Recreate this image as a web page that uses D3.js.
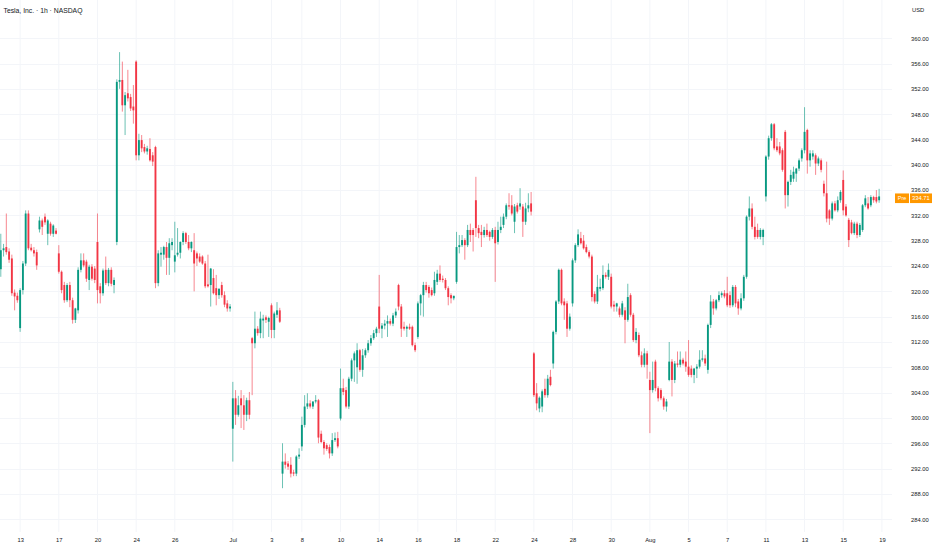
<!DOCTYPE html>
<html>
<head>
<meta charset="utf-8">
<script src="https://cdn.jsdelivr.net/npm/d3@7"></script>
<style>
  body { margin: 0; background: #ffffff; }
  text { font-family: 'Liberation Sans', Arial, sans-serif; }
</style>
</head>
<body>
<div id="chart"></div>
<script>
// trading sessions (1h bars, regular hours)
const sessions = [
  'Jun 12', 'Jun 13', 'Jun 16', 'Jun 17', 'Jun 18', 'Jun 20', 'Jun 23', 'Jun 24', 'Jun 25', 'Jun 26', 'Jun 27', 'Jun 30',
  'Jul 1', 'Jul 2', 'Jul 3', 'Jul 7', 'Jul 8', 'Jul 9', 'Jul 10', 'Jul 11', 'Jul 14', 'Jul 15', 'Jul 16', 'Jul 17',
  'Jul 18', 'Jul 21', 'Jul 22', 'Jul 23', 'Jul 24', 'Jul 25', 'Jul 28', 'Jul 29', 'Jul 30', 'Jul 31',
  'Aug 1', 'Aug 4', 'Aug 5', 'Aug 6', 'Aug 7', 'Aug 8', 'Aug 11', 'Aug 12', 'Aug 13', 'Aug 14', 'Aug 15', 'Aug 18', 'Aug 19'
];

// [open, high, low, close] per hour, one row per session
const candles = [
  [[323.5,329.1,322.3,326.5],[326.5,327.5,325.5,326.8],[327,332.3,325.8,326.2],[326.3,326.8,324.5,325],[325.2,325.8,319.3,319.7],[319.8,320.3,317,319.2],[319.3,319.8,318.2,318.6]],
  [[314.2,320.5,313.6,320.2],[320.2,324.8,319.5,324.4],[324.4,332.8,324,332.3],[332.3,332.8,326.5,326.8],[326.9,327.5,326.3,326.5],[326.5,327,325.5,326],[326.2,326.6,323.4,324.1]],
  [[329.8,331.8,329.3,331.2],[331.2,331.5,328.9,330.2],[331.8,332.3,330.5,330.9],[329.1,331.4,327.3,331.2],[330.7,331,328.8,329.1],[329.1,330.6,328.6,330.4],[329.6,330,329,329.1]],
  [[326,327.3,322.8,323.1],[323.1,323.3,319.7,320.2],[321,321.5,318.2,318.6],[318.6,321.3,318.3,321],[321,321.5,317.5,318.6],[318.6,319,314.9,315.5],[315.5,317.4,315,317.3]],
  [[317,323.8,316.5,323.4],[323.4,326,323,324.9],[324.9,326,323.8,324.1],[324.7,325,321.5,322],[321.8,324.2,320.2,323.9],[323.9,324.3,321.7,322],[323.6,324,321.3,321.8]],
  [[327.8,332.3,318.1,320.2],[320.8,321.3,318.1,319.7],[319.7,323.6,319.3,323.3],[323.4,325.5,321,321.3],[321.3,323.7,320.8,323.4],[323.4,323.8,320.8,321.2],[321,322.2,319.7,321.8]],
  [[327.8,353.5,327.3,353.1],[353.1,357.8,352,353.4],[353.4,356.3,348.4,349.4],[349.4,351.5,344.7,351],[351.3,355,350,350.5],[350.7,351.2,348.5,348.9],[349.2,352.6,346.5,348.6]],
  [[356.3,356.5,340.7,341.5],[341.5,344.9,340.7,343.9],[343.9,344.7,342,342.6],[342.8,343.3,341.8,342.1],[342.1,343,341.6,342.6],[342.5,344.2,340.5,340.7],[341.5,342,339.8,340.5]],
  [[342.8,343,320.5,321.3],[321.3,326.5,320.8,326],[325.8,327,323.9,326.1],[325.8,327.2,325,327],[327,327.8,322.6,325.3],[325.3,328.4,322.6,327.6],[327.3,328.4,326.5,327.8]],
  [[324.7,331,323,325.7],[325.8,330,325.5,326.1],[326.1,327.9,325.2,327.8],[327.8,329.5,327.3,329.2],[329.2,329.4,327.5,327.8],[327.8,328.9,326.5,326.8],[326.8,327.9,326.2,327.8]],
  [[326.5,329.2,320,324.4],[326,326.3,324,325.2],[325.5,326,324.5,324.7],[325.5,325.7,324.2,324.4],[324.4,324.8,320.5,320.8],[321.1,325.8,320.6,320.8],[321,323.7,317.6,323.6]],
  [[322.1,323.5,319.5,319.7],[320.5,322.6,317.8,319.4],[319.4,320.5,318.8,320.4],[321,321.5,319,319.4],[319.4,320,317.5,317.9],[318.1,318.6,316.8,317.3],[317.3,318,316.8,317.6]],
  [[298.3,305.7,293.1,303.1],[303.1,304.4,298.9,300.5],[300.5,303.5,300.2,302],[303.1,304.4,298.4,302],[302,303.6,298.1,300.5],[300.5,303.2,299.5,302.8],[302.8,304.1,299.8,300.5]],
  [[312.6,312.8,303.6,311.8],[311.8,316.8,311,314.1],[314.1,314.5,313,313.4],[313.4,316.8,312.6,315.7],[315.4,316.3,312.6,315.7],[315.9,316.2,315,315.5],[315.2,316,312.8,315.8]],
  [[317.8,318.1,312.6,313.9],[313.9,316.8,312.6,316.5],[316.3,318.3,315.8,317],[317,317.4,315,315.2]],
  [[291.2,296,288.9,293.1],[293.1,294.4,292,292.6],[292.8,293.2,291.8,292.3],[292.6,293.8,290.6,291.2],[291.4,291.8,290.8,291.2],[291.2,294.1,290.8,293.9],[293.9,295.2,293.5,294.2]],
  [[295.5,300.2,294.8,298.9],[298.9,303.6,298.5,301.8],[301.8,303.9,301.4,302.3],[302.3,302.8,301.5,301.8],[301.8,302.6,301.4,302.6],[302.6,303.6,302.3,302.8],[302.8,303,296,296.9]],
  [[297.5,298,296,296.2],[296.2,296.5,294.2,295.2],[295.7,296,294.8,295.1],[295.4,295.8,293.6,294.4],[294.4,297.6,294,296.5],[296.5,297.7,296.2,296.8],[296.8,297.8,295.2,295.5]],
  [[299.9,307.8,299.6,304.7],[304.7,306.2,303.6,304.1],[304.4,304.9,301.5,301.8],[301.8,306.5,301.4,306.2],[306.2,309.4,305.8,309.1],[309.1,310.5,305.7,310.2],[308,311.8,305.4,310.7]],
  [[310.7,310.9,307.3,307.6],[307.6,310.9,306.5,309.9],[309.9,311,309.5,310.7],[310.7,312.3,310.3,311.8],[311.8,313.1,311.4,312.6],[312.6,313.9,312.3,313.4],[313.4,314.4,312.8,314.1]],
  [[317.6,322.6,313.4,314.1],[314.1,315,312.6,314.6],[314.6,315.5,314,314.9],[314.9,316.2,312.8,315.3],[315.3,315.7,314.6,314.9],[314.9,316.6,314.5,316.2],[316.2,317.3,315.8,316.8]],
  [[321,321.2,317,317.6],[317.6,318,312.8,314.1],[314.4,315.2,313.8,314.1],[314.1,314.6,312.8,314.4],[314.4,314.9,313.9,314.1],[314.4,314.6,311.3,311.5],[311.5,311.9,310.4,310.7]],
  [[312.8,318.4,312.5,318.1],[318.1,319.6,316.2,319.4],[319.4,321.5,316,321],[321,321.5,319.8,320.2],[320.7,321,319,319.7],[320.2,320.6,319.2,319.4],[319.7,323.1,319.3,321.8]],
  [[321.5,323.4,321,322.8],[322.8,324.1,321.5,321.8],[322,322.5,321.4,321.8],[321.8,322.1,320.2,320.5],[320.5,320.8,317.8,319.1],[319.4,319.7,318.1,318.9],[318.9,319.3,318.6,319.3]],
  [[321.5,329.4,321.2,327],[327,328.9,326,327.3],[327.3,328.9,327,328.1],[328.1,328.4,325,327.3],[327.3,330.5,327,329.7],[329.7,330.7,327.8,328.9],[329.7,330,326.3,328.9]],
  [[334.4,338.1,328.6,330],[330,330.5,328.4,329.2],[329.4,330.5,327,328.9],[328.9,330.2,328.5,329.7],[329.7,330.7,328.6,328.9],[329.4,329.6,328,328.6],[328.6,330,328.3,329.7]],
  [[329.7,330.2,321.5,327.6],[327.8,331,327.4,329.7],[329.7,331.8,329.2,330.2],[330.5,332.3,330,331.8],[331.8,333.9,331.4,333.6],[333.6,335.5,332.9,333.4],[333.6,335.2,332,332.3]],
  [[331,333.8,329.2,333.4],[333.6,334,332.3,332.6],[333.4,336.3,332.9,333.9],[333.4,333.8,328.6,331],[331,334,330.5,333.1],[333.1,335.5,332.5,333.6],[333.9,335.7,332,332.6]],
  [[310.2,310.4,303.3,303.6],[303.9,305.5,301.2,302.3],[301.5,303.4,300.9,303.2],[301.8,304.5,300.9,304.2],[304.6,306.2,303.2,303.6],[303.6,306.8,303.2,306.2],[306.5,307.6,305,305.2]],
  [[308.6,313.8,307.8,313.6],[313.6,318.6,313.2,318.4],[318.4,323.6,318,323.4],[323.4,323.6,317.8,318.1],[318.4,318.9,315.5,317.8],[318.1,318.5,312.8,314.1],[314.1,316.5,313.8,316]],
  [[318.1,325.2,317.6,324.9],[324.9,327.6,324.5,327.3],[327.3,329.8,327,329],[328.4,329.4,327.4,327.6],[328,328.9,326.6,326.8],[327,327.4,326,326.2],[326.2,326.5,325.2,325.5]],
  [[325.5,325.8,318.4,319.1],[319.6,320,318.1,318.4],[318.4,322.6,318,320.7],[320.4,322,320,320.7],[320.5,324.1,320.2,322.6],[322.6,323,322,322.3],[322.3,324.4,321.8,323.4]],
  [[322.3,322.8,317.3,317.6],[317.9,318.5,316.8,317.6],[317.6,318.2,316.8,318.1],[317.3,317.6,315.9,316.3],[316.3,318.5,316,318.1],[317,317.5,311.8,315.5],[315.5,321.2,315.2,319.1]],
  [[319.4,319.7,316,316.3],[316.3,316.6,312,312.3],[312.3,314.2,311.8,313.6],[313.1,313.5,309.6,309.9],[309.9,310.5,308,308.4],[308.4,311,308,310.2],[310.2,310.6,306.2,308.4]],
  [[306,307.3,297.6,304.4],[304.4,308.9,304,306],[308.9,309.2,304.2,304.7],[304.7,305,302.6,303.1],[304.4,304.7,302.8,303.1],[303.1,303.4,301.3,301.8],[301.8,303,301,302.6]],
  [[306,312,305.8,308.9],[308.9,309.3,303.4,306],[306,309,305.5,308.6],[308.6,310.5,308,308.4],[308.4,310.5,308,309.2],[309.2,309.5,308.3,308.6],[308.9,310.5,307.3,308.1]],
  [[308.1,312.3,306.5,306.8],[307.8,308.3,306.4,306.8],[306.8,307.9,305.5,307.8],[307.8,308.5,306.3,308.1],[308.1,310.7,307.8,309.2],[309.2,310.7,308.9,309.4],[309.4,310,308.2,308.6]],
  [[307.6,314.9,307,314.7],[314.7,319.4,314.2,318.4],[318.4,318.8,316.3,317.3],[317.3,318.8,317,318.6],[318.6,320,318.3,319.4],[319.4,320,319,319.7],[319.7,320.2,318.9,319.2]],
  [[319.7,322.3,317.5,317.8],[319.4,320,317.4,317.8],[317.8,321,317.5,320.7],[320.7,321,317.5,318.1],[318.4,318.8,316.3,317.3],[317.3,319.7,317,318.9],[318.9,322.6,318.5,322.3]],
  [[322.3,332,322,331.8],[331.8,335,331.2,333.1],[333.1,333.9,329.8,330.2],[330.2,331.8,328.2,328.6],[329.7,330.7,328.3,328.6],[328.6,330,328.2,329.7],[328.6,329.9,327.3,329.7]],
  [[335,341.5,334.2,341.3],[341.3,344.6,340.8,344.2],[344.2,346.6,343.8,346.4],[346.4,346.6,342.3,342.6],[342.9,344.2,342,342.3],[342.9,343.6,341.5,341.8],[342.3,342.6,338.9,339.2]],
  [[345.2,345.5,333.1,335.2],[335.2,337.5,333.4,337.3],[337.3,339.2,336.8,338.4],[337.8,339.7,337.3,338.9],[338.6,339.5,337.3,339.4],[339.4,341,339,340.7],[341,342.6,340.5,342.3]],
  [[342.3,349.1,341.8,345.2],[345.5,345.7,338.6,340.7],[340.7,342.3,339.7,341.8],[341.3,342.3,340.8,341.8],[341.5,341.8,338.4,340.2],[340.2,341.3,339.8,341],[340.7,341,338.8,339.2]],
  [[337,337.5,335,335.5],[335.5,340.5,330.9,331.5],[332.8,333,330.5,331.5],[331.5,334.2,331.2,333.9],[333.9,334.3,332.6,332.8],[332.8,335,332.5,334.4],[334.4,336,334,335.7]],
  [[337.6,339.1,332,332.8],[333.4,333.8,331.8,332],[331.3,331.6,327,328.1],[330.9,331.3,329,329.2],[329.2,331,328.9,330.7],[330.7,331,328.4,328.9],[328.9,330.8,328.6,330.5]],
  [[329.7,333.8,329.4,333.6],[333.6,335.2,333.3,334.7],[333.9,334.9,332.9,333.1],[333.6,335.2,333.3,334.9],[334.9,335.1,334,334.4],[334.9,336,333.9,334.2],[334.4,336.2,334,335]],
  []
];

// time axis labels: session -> text
const xTickSessions = ['Jun 13', 'Jun 17', 'Jun 20', 'Jun 24', 'Jun 26', 'Jul 1', 'Jul 3', 'Jul 8', 'Jul 10', 'Jul 14', 'Jul 16', 'Jul 18',
  'Jul 22', 'Jul 24', 'Jul 28', 'Jul 30', 'Aug 1', 'Aug 5', 'Aug 7', 'Aug 11', 'Aug 13', 'Aug 15', 'Aug 19'];
const xTickLabels = ['13', '17', '20', '24', '26', 'Jul', '3', '8', '10', '14', '16', '18',
  '22', '24', '28', '30', 'Aug', '5', '7', '11', '13', '15', '19'];

const yTicks = [284, 288, 292, 296, 300, 304, 308, 312, 316, 320, 324, 328, 332, 336, 340, 344, 348, 352, 356, 360];

const preMarket = 334.71;
const title = 'Tesla, Inc. · 1h · NASDAQ';

// flatten bars, remember where each session starts
const bars = [];
const sessionStart = {};
candles.forEach((day, d) => {
  sessionStart[sessions[d]] = bars.length;
  day.forEach((b) => bars.push({ o: b[0], h: b[1], l: b[2], c: b[3], i: bars.length }));
});

const W = 932, H = 550;
const plotW = 892, plotH = 532;
const up = '#089981', down = '#F23645';

const svg = d3
  .select('#chart')
  .append('svg')
  .attr('width', W)
  .attr('height', H)
  .style('background-color', '#ffffff');

const x = d3.scaleLinear().domain([0, sessionStart['Aug 19']]).range([0.8, 881.9]);
const y = d3.scaleLinear().domain([284, 360]).range([519.2, 38.2]);

svg.append('clipPath').attr('id', 'plot-clip')
  .append('rect').attr('width', plotW).attr('height', plotH);

// grid
const grid = svg.append('g').attr('clip-path', 'url(#plot-clip)');
grid.selectAll('line.h')
  .data(yTicks)
  .join('line')
  .attr('x1', 0)
  .attr('x2', plotW)
  .attr('y1', (d) => Math.round(y(d)) + 0.5)
  .attr('y2', (d) => Math.round(y(d)) + 0.5)
  .attr('stroke', '#f3f5f9')
  .attr('stroke-width', 1);
grid.selectAll('line.v')
  .data(xTickSessions)
  .join('line')
  .attr('x1', (s) => x(sessionStart[s]))
  .attr('x2', (s) => x(sessionStart[s]))
  .attr('y1', 0)
  .attr('y2', plotH)
  .attr('stroke', '#f3f5f9')
  .attr('stroke-width', 1);

// candles
const step = x(1) - x(0);
const bodyW = step * 0.68;
const candleG = svg.append('g').attr('clip-path', 'url(#plot-clip)');
const color = (b) => (b.c >= b.o ? up : down);

candleG.selectAll('line.wick')
  .data(bars)
  .join('line')
  .attr('x1', (b) => x(b.i))
  .attr('x2', (b) => x(b.i))
  .attr('y1', (b) => y(b.h))
  .attr('y2', (b) => y(b.l))
  .attr('stroke', color)
  .attr('stroke-width', 0.6);

candleG.selectAll('rect.body')
  .data(bars)
  .join('rect')
  .attr('x', (b) => x(b.i) - bodyW / 2)
  .attr('y', (b) => y(Math.max(b.o, b.c)))
  .attr('width', bodyW)
  .attr('height', (b) => Math.max(0.8, Math.abs(y(b.o) - y(b.c))))
  .attr('fill', color);

// price axis
const yAxis = svg.append('g')
  .attr('transform', `translate(${plotW + 19},0)`)
  .call(d3.axisRight(y).tickValues(yTicks).tickSize(0).tickPadding(0).tickFormat(d3.format('.2f')));
yAxis.select('.domain').remove();
yAxis.selectAll('text')
  .attr('fill', '#131722')
  .style('font-size', '5.8px');

// time axis
const xAxis = svg.append('g')
  .attr('transform', `translate(0,${plotH + 5.5})`)
  .call(d3.axisBottom(x)
    .tickValues(xTickSessions.map((s) => sessionStart[s]))
    .tickSize(0)
    .tickPadding(0)
    .tickFormat((d, i) => xTickLabels[i]));
xAxis.select('.domain').remove();
xAxis.selectAll('text')
  .attr('fill', '#131722')
  .style('font-size', '5.8px');

// header
svg.append('text')
  .attr('x', 3.5)
  .attr('y', 12.5)
  .attr('fill', '#131722')
  .style('font-size', '6.8px')
  .text(title);
svg.append('text')
  .attr('x', 912)
  .attr('y', 12)
  .attr('fill', '#131722')
  .style('font-size', '5.8px')
  .text('USD');

// pre-market price tag
const tagY = y(preMarket);
svg.append('rect')
  .attr('x', 895).attr('y', tagY - 4.8)
  .attr('width', 14).attr('height', 9.6)
  .attr('fill', '#FF9800');
svg.append('rect')
  .attr('x', 910).attr('y', tagY - 4.8)
  .attr('width', 22).attr('height', 9.6)
  .attr('fill', '#FF9800');
svg.append('text')
  .attr('x', 902).attr('y', tagY + 2)
  .attr('text-anchor', 'middle')
  .attr('fill', '#ffffff')
  .style('font-size', '5.4px')
  .text('Pre');
svg.append('text')
  .attr('x', 912).attr('y', tagY + 2)
  .attr('fill', '#ffffff')
  .style('font-size', '5.8px')
  .text(preMarket.toFixed(2));
</script>
</body>
</html>
